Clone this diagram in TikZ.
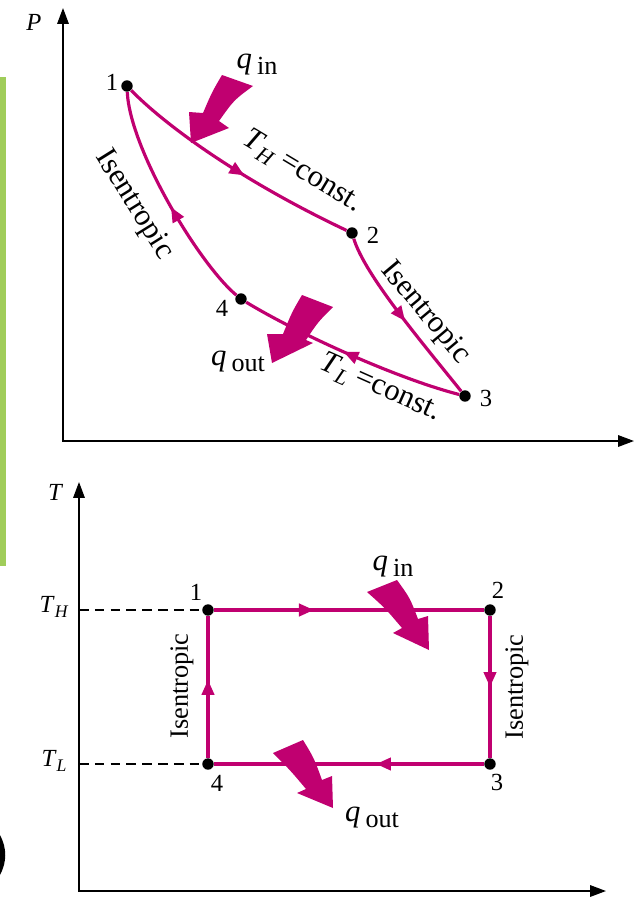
\documentclass[tikz,border=0pt]{standalone}
\usepackage{fontspec}
\setmainfont{Liberation Serif}
\usepackage{graphicx}
\usetikzlibrary{arrows.meta,decorations.markings}

\definecolor{cyclered}{RGB}{192,0,112}
\definecolor{slidegreen}{RGB}{160,205,90}

\newcommand\qsub[1]{\textit{q}\,\raisebox{-0.4ex}{\scalebox{0.85}{#1}}}
\newcommand\Tsub[1]{\textit{T}\raisebox{-0.45ex}{\scalebox{0.72}{\textit{#1}}}}

\begin{document}
\begin{tikzpicture}[x=0.02cm, y=-0.02cm,
    axis/.style={line width=0.9pt, {Triangle[length=9pt,width=6.5pt]}-{Triangle[length=9pt,width=6.5pt]}},
    process/.style={cyclered, line width=1.8pt},
    midarrow/.style={postaction={decorate}, decoration={markings, mark=at position #1 with {\arrow{Triangle[length=8.5pt,width=7pt]}}}},
    statept/.style={circle, fill=black, inner sep=0pt, minimum size=6.5pt},
    heat/.style={fill=cyclered},
    dashline/.style={line width=0.8pt, dash pattern=on 5.5pt off 3.5pt},
    biglbl/.style={font=\fontsize{17.5}{20}\selectfont, inner sep=0pt},
    numlbl/.style={font=\fontsize{14}{16}\selectfont, inner sep=0pt},
    smalllbl/.style={font=\fontsize{15}{18}\selectfont, inner sep=0pt}]
    \useasboundingbox (0,0) rectangle (638,900);

    % edge of the slide behind
    \fill[slidegreen] (0,77) rectangle (6,566);
    \fill (0,835) .. controls (7,848) and (7,862) .. (0,875) -- cycle;

    % P-v diagram
    \coordinate (ptop) at (63,8);
    \coordinate (porigin) at (63,441);
    \coordinate (pright) at (634,441);
    \draw[axis] (ptop) -- (porigin) -- (pright);
    \node[numlbl, font=\fontsize{14}{16}\selectfont\itshape] (plabel) at (34,22) {P};

    \node[statept] (p1) at (127,86) {};
    \node[statept] (p2) at (352,233) {};
    \node[statept] (p3) at (465,396) {};
    \node[statept] (p4) at (241,299) {};
    \node[numlbl] (n1) at (112,82) {1};
    \node[numlbl] (n2) at (373,235) {2};
    \node[numlbl] (n3) at (486,398) {3};
    \node[numlbl] (n4) at (222,308) {4};

    \draw[process, midarrow=0.55] (p1) .. controls (165,125) and (240,180) .. (p2);
    \draw[process, midarrow=0.52] (p2) .. controls (365,275) and (420,340) .. (p3);
    \draw[process, midarrow=0.53] (p3) .. controls (395,378) and (295,332) .. (p4);
    \draw[process, midarrow=0.47] (p4) .. controls (200,265) and (130,150) .. (p1);

    \node[biglbl, rotate=-31] (hconst) at (302,172) {\Tsub{H} =const.};
    \node[biglbl, rotate=-58] (isenl) at (134,205) {Isentropic};
    \node[biglbl, rotate=-50] (isenr) at (425,313) {Isentropic};
    \node[biglbl, rotate=-24] (lconst) at (380,388) {\Tsub{L} =const.};
    \node[biglbl] (qin) at (257,65) {\qsub{in}};
    \node[biglbl] (qout) at (238,362) {\qsub{out}};

    % heat arrows
    \fill[heat] (222,75) .. controls (212,92) .. (203,113) -- (189,112) -- (191,143)
        -- (229,128) -- (219,121) .. controls (234,100) .. (253,86) -- cycle;
    \fill[heat] (302,295) .. controls (292,312) .. (283,334) -- (267,334) -- (272,363)
        -- (313,343) -- (306,340) .. controls (318,322) .. (333,307) -- cycle;

    % T-s diagram
    \coordinate (ttop) at (79,482);
    \coordinate (torigin) at (79,891);
    \coordinate (tright) at (606,891);
    \draw[axis] (ttop) -- (torigin) -- (tright);
    \node[numlbl, font=\fontsize{14}{16}\selectfont\itshape] (tlabel) at (55,492) {T};
    \node[numlbl] (thlabel) at (54,607) {\Tsub{H}};
    \node[numlbl] (tllabel) at (54,761) {\Tsub{L}};
    \coordinate (thaxis) at (79,610);
    \coordinate (tlaxis) at (79,764);

    \node[statept] (q1) at (208,610) {};
    \node[statept] (q2) at (490,610) {};
    \node[statept] (q3) at (490,764) {};
    \node[statept] (q4) at (208,764) {};
    \node[numlbl] (m1) at (196,592) {1};
    \node[numlbl] (m2) at (498,590) {2};
    \node[numlbl] (m3) at (497,782) {3};
    \node[numlbl] (m4) at (217,783) {4};

    \draw[dashline] (thaxis) -- (q1);
    \draw[dashline] (tlaxis) -- (q4);

    \draw[process, midarrow=0.37] (q1) -- (q2);
    \draw[process, midarrow=0.5] (q2) -- (q3);
    \draw[process, midarrow=0.4] (q3) -- (q4);
    \draw[process, midarrow=0.55] (q4) -- (q1);

    \node[smalllbl, rotate=90] (isenl2) at (182,686) {Isentropic};
    \node[smalllbl, rotate=90] (isenr2) at (517,687) {Isentropic};
    \node[biglbl] (qin2) at (393,567) {\qsub{in}};
    \node[biglbl] (qout2) at (372,818) {\qsub{out}};

    \fill[heat] (367,592) .. controls (385,608) .. (402,628) -- (393,633) -- (429,650)
        -- (428,616) -- (418,619) .. controls (410,598) .. (397,580) -- cycle;
    \fill[heat] (273,753) .. controls (290,770) .. (306,789) -- (297,793) -- (333,808)
        -- (332,776) -- (322,780) .. controls (314,758) .. (303,740) -- cycle;
\end{tikzpicture}
\end{document}
